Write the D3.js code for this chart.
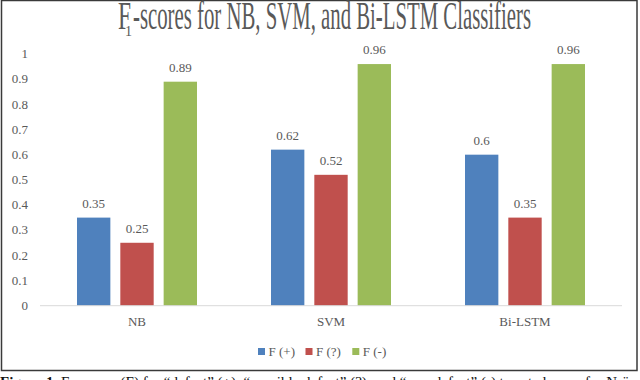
<html>
<head>
<script src="https://d3js.org/d3.v7.min.js"></script>
<style>
  body { margin: 0; background: #fff; }
  text { font-family: "Liberation Serif", serif; fill: #595959; }
</style>
</head>
<body>
<div id="container"></div>
<script>
// chart data
var classifiers = ["NB", "SVM", "Bi-LSTM"];
var seriesNames = ["F (+)", "F (?)", "F (-)"];
var fPlus = [0.35, 0.62, 0.6];
var fQuestion = [0.25, 0.52, 0.35];
var fMinus = [0.89, 0.96, 0.96];
var yTicks = [0, 0.1, 0.2, 0.3, 0.4, 0.5, 0.6, 0.7, 0.8, 0.9, 1];
var colors = ["#4F81BD", "#C0504D", "#9BBB59"];

var allSeries = [fPlus, fQuestion, fMinus];
var rows = [];
classifiers.forEach(function(c, i) {
  seriesNames.forEach(function(s, j) {
    rows.push({cat: c, series: s, value: allSeries[j][i], color: colors[j]});
  });
});

var width = 640, height = 380;
var svg = d3.select("#container").append("svg")
  .attr("width", width)
  .attr("height", height);

svg.append("rect").attr("width", width).attr("height", height).attr("fill", "#fff");

// outer frame
svg.append("rect")
  .attr("x", 1.5).attr("y", 0.5)
  .attr("width", 635.5).attr("height", 370)
  .attr("fill", "none")
  .attr("stroke", "#3a3a3a")
  .attr("stroke-width", 1.5);

// title (squeezed like the original)
svg.append("text").attr("x", 118).attr("y", 29)
  .attr("font-size", 40)
  .attr("textLength", 13).attr("lengthAdjust", "spacingAndGlyphs")
  .text("F");
svg.append("text").attr("x", 125).attr("y", 36)
  .attr("font-size", 14)
  .text("1");
svg.append("text").attr("x", 133).attr("y", 29)
  .attr("font-size", 40)
  .attr("textLength", 398).attr("lengthAdjust", "spacingAndGlyphs")
  .text("-scores for NB, SVM, and Bi-LSTM Classifiers");

// scales
var x = d3.scaleBand().domain(classifiers).range([40, 622]);
var x1 = d3.scaleBand().domain(seriesNames)
  .range([37, 157]).paddingInner(0.23);
var y = d3.scaleLinear().domain([0, 1]).range([305.7, 54]);

// y tick labels
svg.selectAll(".ytick")
  .data(yTicks)
  .enter().append("text")
  .attr("x", 28)
  .attr("y", function(d) { return y(d); })
  .attr("dy", "0.32em")
  .attr("text-anchor", "end")
  .attr("font-size", 13)
  .text(function(d) { return d; });

// bars
svg.selectAll(".bar")
  .data(rows)
  .enter().append("rect")
  .attr("x", function(d) { return x(d.cat) + x1(d.series); })
  .attr("y", function(d) { return y(d.value); })
  .attr("width", x1.bandwidth())
  .attr("height", function(d) { return y(0) - y(d.value); })
  .attr("fill", function(d) { return d.color; });

// value labels
svg.selectAll(".val")
  .data(rows)
  .enter().append("text")
  .attr("x", function(d) { return x(d.cat) + x1(d.series) + x1.bandwidth() / 2; })
  .attr("y", function(d) { return y(d.value) - 10; })
  .attr("text-anchor", "middle")
  .attr("font-size", 13)
  .text(function(d) { return d.value; });

// baseline
svg.append("line")
  .attr("x1", 40).attr("x2", 622)
  .attr("y1", y(0)).attr("y2", y(0))
  .attr("stroke", "#d9d9d9")
  .attr("stroke-width", 1);

// category labels
svg.selectAll(".cat")
  .data(classifiers)
  .enter().append("text")
  .attr("x", function(d) { return x(d) + x.bandwidth() / 2; })
  .attr("y", 326)
  .attr("text-anchor", "middle")
  .attr("font-size", 13)
  .text(function(d) { return d; });

// legend
var legendX = [258, 305.5, 352.3];
var legend = svg.selectAll(".leg")
  .data(seriesNames)
  .enter().append("g")
  .attr("transform", function(d, i) { return "translate(" + legendX[i] + ",348)"; });
legend.append("rect")
  .attr("width", 7).attr("height", 7)
  .attr("fill", function(d, i) { return colors[i]; });
legend.append("text")
  .attr("x", 10.5).attr("y", 7.5)
  .attr("font-size", 13)
  .text(function(d) { return d; });

// caption (cut off by the image edge)
var cap = svg.append("text")
  .attr("x", 0).attr("y", 387)
  .attr("font-size", 15)
  .style("fill", "#111");
cap.append("tspan").attr("font-weight", "bold").text("Figure 1. ");
cap.append("tspan").text("F");
cap.append("tspan").attr("font-size", 10).attr("dy", 3).text("1");
cap.append("tspan").attr("dy", -3).text("-scores (F) for \u201cdefect\u201d (+), \u201cpossible defect\u201d (?), and \u201cnon-defect\u201d (-) tweet classes, for Na\u00efve Bayes");
</script>
</body>
</html>
